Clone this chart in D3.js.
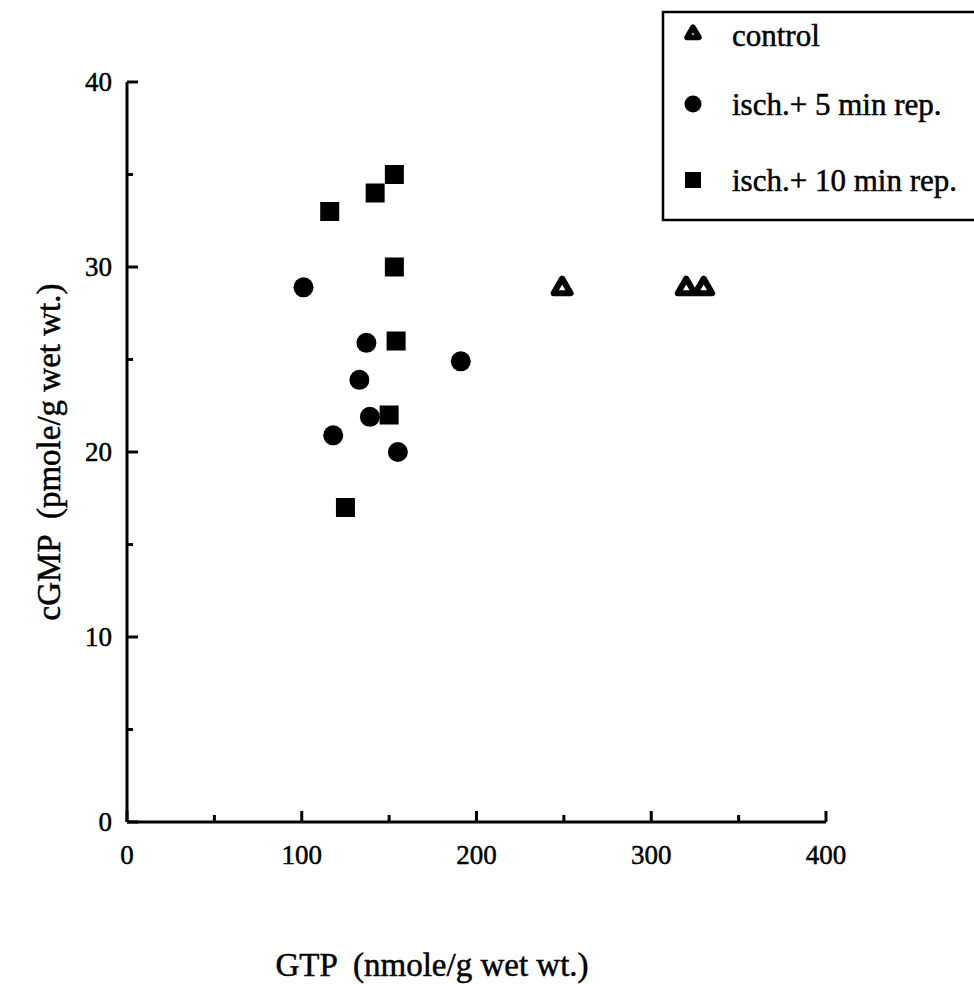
<!DOCTYPE html>
<html><head><meta charset="utf-8">
<script src="https://cdn.jsdelivr.net/npm/d3@7"></script>
<style>body{margin:0;background:#fff}svg{display:block}text{font-family:"Liberation Serif","Times New Roman",serif;fill:#000;stroke:#000;stroke-width:0.5px}</style>
</head><body>
<script>
const controlGTP = [249, 320, 330];
const controlCGMP = [28.9, 28.9, 28.9];
const rep5GTP = [101, 137, 133, 139, 118, 155, 191];
const rep5CGMP = [28.9, 25.9, 23.9, 21.9, 20.9, 20.0, 24.9];
const rep10GTP = [153, 142, 116, 153, 154, 150, 125];
const rep10CGMP = [35.0, 34.0, 33.0, 30.0, 26.0, 22.0, 17.0];
const xMajor = [0, 100, 200, 300, 400];
const xMinor = [50, 150, 250, 350];
const yMajor = [0, 10, 20, 30, 40];
const yMinor = [5, 15, 25, 35];
const legendLabels = ["control", "isch.+ 5 min rep.", "isch.+ 10 min rep."];

const W = 974, H = 984;
const svg = d3.select("body").append("svg").attr("width", W).attr("height", H);
const x = d3.scaleLinear().domain([0, 400]).range([127, 826]);
const y = d3.scaleLinear().domain([0, 40]).range([822, 82]);

// axes lines
svg.append("line").attr("x1", x(0)).attr("x2", x(400)).attr("y1", y(0)).attr("y2", y(0)).attr("stroke", "#000").attr("stroke-width", 3);
svg.append("line").attr("x1", x(0)).attr("x2", x(0)).attr("y1", y(0)).attr("y2", y(40)).attr("stroke", "#000").attr("stroke-width", 3);

// x ticks (inward)
svg.selectAll(".xt").data(xMajor).enter().append("line")
  .attr("x1", d => x(d)).attr("x2", d => x(d)).attr("y1", y(0)).attr("y2", y(0) - 11)
  .attr("stroke", "#000").attr("stroke-width", 3);
svg.selectAll(".xm").data(xMinor).enter().append("line")
  .attr("x1", d => x(d)).attr("x2", d => x(d)).attr("y1", y(0)).attr("y2", y(0) - 7)
  .attr("stroke", "#000").attr("stroke-width", 3);
svg.selectAll(".xl").data(xMajor).enter().append("text")
  .attr("x", d => x(d)).attr("y", 864).attr("text-anchor", "middle")
  .attr("font-size", 27).text(d => d);

// y ticks
svg.selectAll(".yt").data(yMajor).enter().append("line")
  .attr("x1", x(0)).attr("x2", x(0) + 11).attr("y1", d => y(d)).attr("y2", d => y(d))
  .attr("stroke", "#000").attr("stroke-width", 3);
svg.selectAll(".ym").data(yMinor).enter().append("line")
  .attr("x1", x(0)).attr("x2", x(0) + 6).attr("y1", d => y(d)).attr("y2", d => y(d))
  .attr("stroke", "#000").attr("stroke-width", 3);
svg.selectAll(".yl").data(yMajor).enter().append("text")
  .attr("x", 112).attr("y", d => y(d) + 9).attr("text-anchor", "end")
  .attr("font-size", 27).text(d => d);

// axis titles
svg.append("text").attr("x", 432).attr("y", 976).attr("text-anchor", "middle")
  .attr("font-size", 33).style("white-space", "pre").text("GTP  (nmole/g wet wt.)");
svg.append("text").attr("transform", "translate(60,452) rotate(-90)").attr("text-anchor", "middle")
  .attr("font-size", 33).style("white-space", "pre").text("cGMP  (pmole/g wet wt.)");

// markers
const triPath = s => { const h = s * Math.sqrt(3) / 2; return `M0,${-h*2/3}L${s/2},${h/3}L${-s/2},${h/3}Z`; };
function drawTri(g, cx, cy, s, sw) {
  g.append("path").attr("d", triPath(s)).attr("transform", `translate(${cx},${cy + 1})`)
    .attr("fill", "#fff").attr("stroke", "#000").attr("stroke-width", sw).attr("stroke-linejoin", "round");
}
const pts = svg.append("g");
controlGTP.forEach((v, i) => drawTri(pts, x(v), y(controlCGMP[i]), 17, 6));
pts.selectAll("circle.p").data(rep5GTP).enter().append("circle")
  .attr("cx", d => x(d)).attr("cy", (d, i) => y(rep5CGMP[i])).attr("r", 10).attr("fill", "#000");
pts.selectAll("rect.p").data(rep10GTP).enter().append("rect")
  .attr("x", d => x(d) - 9.5).attr("y", (d, i) => y(rep10CGMP[i]) - 9.5).attr("width", 19).attr("height", 19).attr("fill", "#000");

// legend
const lg = svg.append("g");
lg.append("rect").attr("x", 663).attr("y", 12).attr("width", 330).attr("height", 208)
  .attr("fill", "#fff").attr("stroke", "#000").attr("stroke-width", 2.5);
const ly = [35, 104, 180];
drawTri(lg, 693, ly[0] - 2, 12, 5.5);
lg.append("circle").attr("cx", 693).attr("cy", ly[1]).attr("r", 8.5).attr("fill", "#000");
lg.append("rect").attr("x", 685).attr("y", ly[2] - 8).attr("width", 16).attr("height", 16).attr("fill", "#000");
lg.selectAll("text").data(legendLabels).enter().append("text")
  .attr("x", 732).attr("y", (d, i) => ly[i] + 11).attr("font-size", 31).text(d => d);
</script>
</body></html>
